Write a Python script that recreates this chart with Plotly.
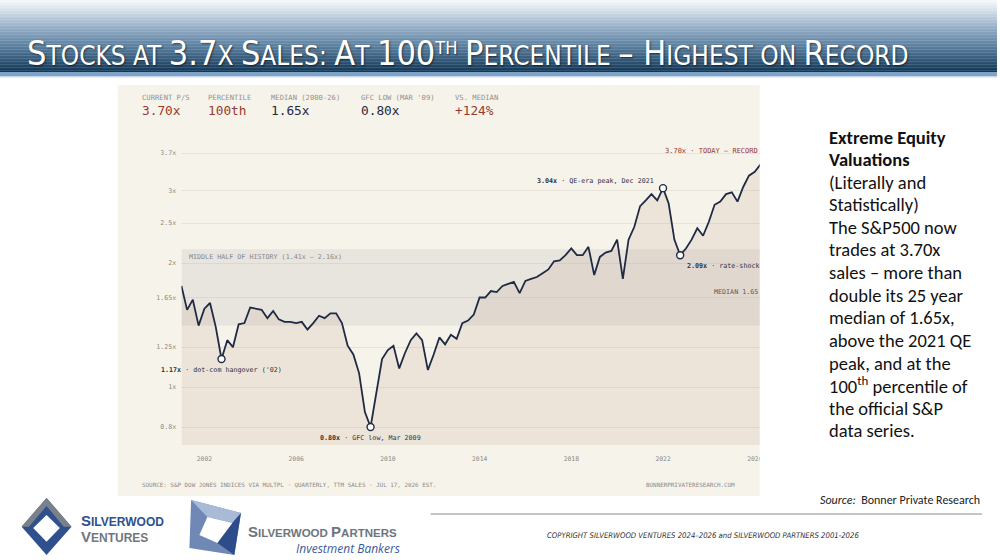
import math
import plotly.graph_objects as go

# ---------------- DATA ----------------
# S&P 500 price-to-sales, quarterly (quarter ends from Dec 2000), plus latest estimate
ps_values = [
    1.76, 1.54, 1.63, 1.41, 1.55, 1.60, 1.40, 1.17, 1.30, 1.25,
    1.42, 1.43, 1.56, 1.55, 1.54, 1.47, 1.53, 1.46, 1.44, 1.44,
    1.43, 1.44, 1.38, 1.43, 1.49, 1.47, 1.51, 1.51, 1.43, 1.26,
    1.20, 1.08, 0.87, 0.80, 0.97, 1.17, 1.23, 1.26, 1.11, 1.21,
    1.30, 1.35, 1.30, 1.10, 1.20, 1.32, 1.27, 1.34, 1.31, 1.43,
    1.45, 1.50, 1.65, 1.65, 1.71, 1.70, 1.76, 1.78, 1.80, 1.69,
    1.81, 1.83, 1.85, 1.89, 1.93, 2.02, 2.03, 2.09, 2.17, 2.09,
    2.09, 2.19, 1.87, 2.07, 2.12, 2.14, 2.28, 1.83, 2.28, 2.45,
    2.75, 2.84, 2.94, 2.84, 3.04, 2.79, 2.28, 2.09, 2.17, 2.28,
    2.43, 2.33, 2.52, 2.77, 2.82, 2.94, 2.97, 2.82, 3.06, 3.26,
    3.33, 3.47, 3.70,
]
_qm = {0: "03-31", 1: "06-30", 2: "09-30", 3: "12-31"}
ps_dates = ["2000-12-31"] + [f"{2001 + k // 4}-{_qm[k % 4]}" for k in range(101)] + ["2026-07-17"]

median_ps = 1.65
band_low, band_high = 1.41, 2.16
highlight_idx = [7, 33, 84, 87]
highlight_notes = ["dot-com hangover ('02)", "GFC low, Mar 2009", "QE-era peak, Dec 2021", "rate-shock"]

y_tick_vals = [0.8, 1, 1.25, 1.65, 2, 2.5, 3, 3.7]
y_tick_text = ["0.8x", "1x", "1.25x", "1.65x", "2x", "2.5x", "3x", "3.7x"]
x_tick_years = [2002, 2006, 2010, 2014, 2018, 2022, 2026]

kpi_labels = ["CURRENT P/S", "PERCENTILE", "MEDIAN (2000-26)", "GFC LOW (MAR '09)", "VS. MEDIAN"]
kpi_values = ["3.70x", "100th", "1.65x", "0.80x", "+124%"]

side_lines = [
    ("Extreme Equity", True), ("Valuations", True), ("(Literally and", False),
    ("Statistically)", False), ("The S&P500 now", False), ("trades at 3.70x", False),
    ("sales \u2013 more than", False), ("double its 25 year", False), ("median of 1.65x,", False),
    ("above the 2021 QE", False), ("peak, and at the", False), ("100<sup>th</sup> percentile of", False),
    ("the official S&P", False), ("data series.", False),
]

# ---------------- STYLE ----------------
W, H = 1000, 560
MONO = "DejaVu Sans Mono, Liberation Mono, monospace"
NAVY = "#1f2a44"
RED = "#9a3a2c"
CARD = "#f6f3ea"


def px(x):
    return x / W


def py(y):
    return 1 - y / H


annotations = []
shapes = []


def ann(text, x, y, size, color, xanchor="left", yanchor="middle", family=MONO, **kw):
    annotations.append(dict(text=text, x=px(x), y=py(y), xref="paper", yref="paper",
                            xanchor=xanchor, yanchor=yanchor, showarrow=False,
                            font=dict(family=family, size=size, color=color), **kw))


def hexmix(c1, c2, t):
    a = [int(c1[i:i + 2], 16) for i in (1, 3, 5)]
    b = [int(c2[i:i + 2], 16) for i in (1, 3, 5)]
    return "#" + "".join(f"{round(a[i] + (b[i] - a[i]) * t):02x}" for i in range(3))


# header gradient
stops = [(0, "#f8fafc"), (10, "#d6e0ea"), (28, "#93adc7"), (48, "#557a9a"), (72, "#113655")]
nb = 48
for k in range(nb):
    y0 = 72 * k / nb
    y1 = 72 * (k + 1) / nb
    ym = (y0 + y1) / 2
    for j in range(len(stops) - 1):
        if stops[j][0] <= ym <= stops[j + 1][0]:
            t = (ym - stops[j][0]) / (stops[j + 1][0] - stops[j][0])
            col = hexmix(stops[j][1], stops[j + 1][1], t)
            break
    shapes.append(dict(type="rect", xref="paper", yref="paper", x0=0, x1=1, y0=py(y1 + 0.3), y1=py(y0),
                       fillcolor=col, line=dict(width=0), layer="below"))
shapes.append(dict(type="rect", xref="paper", yref="paper", x0=0, x1=1, y0=py(76), y1=py(72),
                   fillcolor="#7ea3c8", line=dict(width=0), layer="below"))
shapes.append(dict(type="rect", xref="paper", yref="paper", x0=0, x1=1, y0=py(77.5), y1=py(76),
                   fillcolor="#c9d8e8", line=dict(width=0), layer="below"))

# chart card
shapes.append(dict(type="rect", xref="paper", yref="paper", x0=px(118), x1=px(762), y0=py(496), y1=py(85),
                   fillcolor=CARD, line=dict(width=0), layer="below"))
# median line
shapes.append(dict(type="line", xref="x domain", yref="y", x0=0, x1=1,
                   y0=math.log10(median_ps), y1=math.log10(median_ps),
                   line=dict(color="#b39d7c", width=1.2, dash="3px,2.5px"), layer="above"))
# clip the overhanging last tick label
shapes.append(dict(type="rect", xref="paper", yref="paper", x0=px(762), x1=px(800), y0=py(468), y1=py(448),
                   fillcolor="white", line=dict(width=0), layer="above"))

# footer rule
shapes.append(dict(type="line", xref="paper", yref="paper", x0=px(432), x1=px(985), y0=py(514), y1=py(514),
                   line=dict(color="#8a8a8a", width=1)))


def path(pts):
    return "M " + " L ".join(f"{px(x)},{py(y)}" for x, y in pts) + " Z"


# Silverwood Ventures logo
shapes.append(dict(type="path", xref="paper", yref="paper",
                   path=path([(46.7, 498), (71.7, 526.7), (46.7, 555), (21.7, 526.7)]),
                   fillcolor="#2f4f8f", line=dict(width=0)))
shapes.append(dict(type="path", xref="paper", yref="paper",
                   path=path([(21.7, 526.7), (46.7, 498), (71.7, 526.7), (64, 526.7), (46.7, 506), (29, 526.7)]),
                   fillcolor="#7a8189", line=dict(width=0)))
shapes.append(dict(type="path", xref="paper", yref="paper",
                   path=path([(46.7, 515), (60, 528), (46.7, 541.7), (33.3, 528)]),
                   fillcolor="white", line=dict(width=0)))
# Silverwood Partners logo
shapes.append(dict(type="path", xref="paper", yref="paper",
                   path=path([(191.7, 500), (241.7, 513), (235, 555), (190, 548)]),
                   fillcolor="#6f88b6", line=dict(width=0)))
shapes.append(dict(type="path", xref="paper", yref="paper",
                   path=path([(191.7, 500), (241.7, 513), (233, 523), (208, 517)]),
                   fillcolor="#a9bad6", line=dict(width=0)))
shapes.append(dict(type="path", xref="paper", yref="paper",
                   path=path([(241.7, 513), (235, 555), (218, 543), (233, 523)]),
                   fillcolor="#2d4c8a", line=dict(width=0)))
shapes.append(dict(type="path", xref="paper", yref="paper",
                   path=path([(208, 517), (233, 523), (218, 543), (200, 535)]),
                   fillcolor="white", line=dict(width=0)))

# ---------------- FIGURE ----------------
band_x = [ps_dates[0], ps_dates[-1]]
fig = go.Figure()
# middle-half-of-history band
fig.add_trace(go.Scatter(x=band_x, y=[band_low] * 2, mode="lines", line=dict(width=0),
                         hoverinfo="skip", showlegend=False))
fig.add_trace(go.Scatter(x=band_x, y=[band_high] * 2, mode="lines", line=dict(width=0), fill="tonexty",
                         fillcolor="rgba(150,150,150,0.14)", hoverinfo="skip", showlegend=False))
# area under the curve
fig.add_trace(go.Scatter(x=ps_dates, y=[0.5] * len(ps_dates), mode="lines",
                         line=dict(width=0), hoverinfo="skip", showlegend=False))
fig.add_trace(go.Scatter(x=ps_dates, y=ps_values, mode="lines", fill="tonexty",
                         fillcolor="rgba(180,140,110,0.14)",
                         line=dict(color=NAVY, width=1.8), showlegend=False))
fig.add_trace(go.Scatter(x=[ps_dates[i] for i in highlight_idx], y=[ps_values[i] for i in highlight_idx],
                         mode="markers", marker=dict(size=7, color="white", line=dict(color=NAVY, width=1.4)),
                         showlegend=False))

# chart annotations tied to data
for i, note in zip(highlight_idx, highlight_notes):
    v = ps_values[i]
    txt = f"<b>{v:.2f}x</b> \u00b7 {note}"
    base = dict(x=ps_dates[i], y=math.log10(v), xref="x", yref="y", showarrow=False,
                font=dict(family=MONO, size=6.7, color="#2d3142"), text=txt)
    if i == 84:
        base.update(xanchor="right", yanchor="middle", xshift=-7, yshift=7)
    elif i == 87:
        base.update(xanchor="left", yanchor="middle", xshift=5, yshift=-11)
    else:
        base.update(xanchor="center", yanchor="middle", yshift=-11)
    annotations.append(base)

annotations.append(dict(text=f"{ps_values[-1]:.2f}x \u00b7 TODAY \u2014 RECORD", x=1, xref="x domain",
                        y=math.log10(ps_values[-1]), yref="y", xanchor="right", yanchor="middle", yshift=2,
                        showarrow=False, font=dict(family=MONO, size=7, color=RED)))
annotations.append(dict(text=f"MEDIAN {median_ps:.2f}", x=1, xref="x domain", y=math.log10(median_ps), yref="y",
                        xanchor="right", yanchor="bottom", yshift=0, showarrow=False,
                        font=dict(family=MONO, size=6.7, color="#55585f")))
annotations.append(dict(text=f"MIDDLE HALF OF HISTORY ({band_low:.2f}x \u2013 {band_high:.2f}x)", x=0.01,
                        xref="x domain", y=math.log10(band_high), yref="y", xanchor="left", yanchor="top",
                        yshift=-2, showarrow=False, font=dict(family=MONO, size=6.7, color="#86868a")))

# KPI header row
kpi_x = [140, 207, 270, 360, 454]
kpi_colors = [RED, RED, NAVY, NAVY, RED]
for lab, val, x, c in zip(kpi_labels, kpi_values, kpi_x, kpi_colors):
    ann(lab, x, 97, 7.2, "#94928d")
    ann(val, x, 111, 12.8, c)

# footer of card
ann("SOURCE: S&P DOW JONES INDICES VIA MULTPL \u00b7 QUARTERLY, TTM SALES \u00b7 JUL 17, 2026 EST.", 140, 485, 5.9,
    "#8d8b87")
ann("BONNERPRIVATERESEARCH.COM", 739, 485, 5.9, "#8d8b87", xanchor="right")

# title
BIG, SM = 34, 26
title = (f"<span style='font-size:{BIG}px'>S</span>TOCKS AT <span style='font-size:{BIG}px'>3.7</span>X "
         f"<span style='font-size:{BIG}px'>S</span>ALES: <span style='font-size:{BIG}px'>A</span>T "
         f"<span style='font-size:{BIG}px'>100</span><sup>TH</sup> "
         f"<span style='font-size:{BIG}px'>P</span>ERCENTILE <span style='font-size:{BIG}px'>\u2013 H</span>IGHEST ON "
         f"<span style='font-size:{BIG}px'>R</span>ECORD")
annotations.append(dict(text=title, x=px(25), y=py(53), xref="paper", yref="paper", xanchor="left",
                        yanchor="middle", showarrow=False,
                        font=dict(family="Liberation Sans Narrow, Arial Narrow, DejaVu Sans Condensed, sans-serif",
                                  size=SM, color="white", shadow="1px 1px 2px rgba(0,0,0,0.55)")))

# side text
SIDE = "Carlito, Lato, Open Sans, sans-serif"
for k, (line, bold) in enumerate(side_lines):
    t = f"<b>{line}</b>" if bold else line
    ann(t, 829, 137 + k * 22.6, 18.5, "#111111", family=SIDE)

ann("<i>Source:</i>  Bonner Private Research", 985, 500, 12, "#222222", xanchor="right", family=SIDE)
ann("<i>COPYRIGHT SILVERWOOD VENTURES 2024\u20132026 and SILVERWOOD PARTNERS 2001-2026</i>", 547, 535, 7.7,
    "#333333", family="Liberation Sans Narrow, DejaVu Sans Condensed, sans-serif")

# logo texts
LOGO = "Liberation Sans, DejaVu Sans, sans-serif"
ann("<b><span style='font-size:15px'>S</span>ILVERWOOD</b>", 79, 520, 12, "#2f4f8f", family=LOGO)
ann("<b><span style='font-size:15px'>V</span>ENTURES</b>", 79, 536, 12, "#6f7780", family=LOGO)
ann("<b><span style='font-size:15px'>S</span>ILVERWOOD <span style='font-size:15px'>P</span>ARTNERS</b>", 247,
    531, 11.5, "#6e757e", family=LOGO)
ann("<i>Investment Bankers</i>", 403, 548, 12, "#3d5a99", xanchor="right",
    family="Open Sans, DejaVu Sans, sans-serif")

# ---------------- AXES ----------------
y_top = math.log10(3.7) + 13 / 412
y_bot = y_top - 305 / 412
fig.update_layout(
    width=W, height=H, margin=dict(l=0, r=0, t=0, b=0),
    paper_bgcolor="white", plot_bgcolor="rgba(0,0,0,0)",
    shapes=shapes, annotations=annotations, showlegend=False,
    xaxis=dict(domain=[px(182), px(762)], type="date", range=["2000-12-31", "2026-03-20"],
               tickvals=[f"{y}-01-01" for y in x_tick_years], ticktext=[str(y) for y in x_tick_years],
               showgrid=False, zeroline=False, showline=False, ticks="outside", ticklen=7,
               tickcolor="rgba(0,0,0,0)", tickfont=dict(family=MONO, size=6.4, color="#8c8a86")),
    yaxis=dict(domain=[py(445), py(140)], type="log", range=[y_bot, y_top],
               tickvals=y_tick_vals, ticktext=y_tick_text, showgrid=True, gridcolor="#e7e3d9",
               gridwidth=1, zeroline=False, showline=False, ticks="outside", ticklen=3,
               tickcolor="rgba(0,0,0,0)", tickfont=dict(family=MONO, size=6.6, color="#8c8a86")),
)

fig.write_html("out.html", config={"displayModeBar": False},
               post_script="document.body.style.margin='0px';document.body.style.overflow='hidden';")
